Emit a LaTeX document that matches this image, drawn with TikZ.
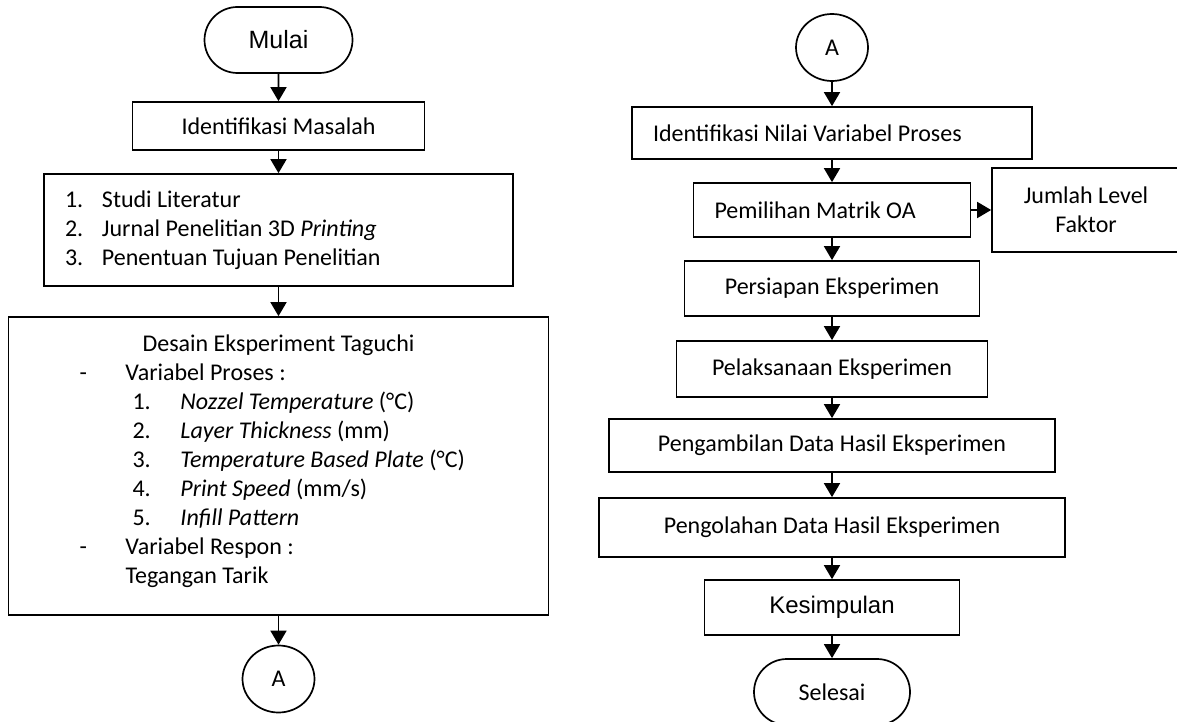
\documentclass[tikz,border=0pt]{standalone}
\usepackage{fontspec}
\setmainfont{Carlito}
\newfontfamily\arialfont{Liberation Sans}
\usetikzlibrary{arrows.meta,shapes.geometric,shapes.misc}
\newcommand{\nomor}[1]{\hspace*{21pt}\makebox[37pt][l]{#1}}
\newcommand{\strip}[1]{\hspace*{71pt}\makebox[46pt][l]{-}#1}
\newcommand{\butir}[2]{\hspace*{124pt}\makebox[48pt][l]{#1}#2}

\begin{document}
\begin{tikzpicture}[x=1pt, y=-1pt,
    kotak/.style={draw, line width=1.7pt, inner sep=0pt, font=\fontsize{24}{29}\selectfont},
    terminal/.style={kotak, rounded rectangle},
    konektor/.style={kotak, ellipse, minimum width=72pt, minimum height=67pt},
    panah/.style={line width=1.7pt, -{Triangle[length=14pt,width=16pt]}}]
    \useasboundingbox (0,0) rectangle (1177,722);
    % Kolom kiri
    \node[terminal, minimum width=148pt, minimum height=66pt, font=\arialfont\fontsize{25}{29}\selectfont] (mulai) at (278.5,40) {Mulai};
    \node[kotak, minimum width=292pt, minimum height=48pt] (masalah) at (278.5,126) {Identifikasi Masalah};
    \node[kotak, minimum width=469pt, minimum height=112pt, text width=469pt, align=flush left] (studi) at (278.5,230)
        {\nomor{1.}Studi Literatur\\ \nomor{2.}Jurnal Penelitian 3D \textit{Printing}\\ \nomor{3.}Penentuan Tujuan Penelitian};
    \node[kotak, minimum width=540pt, minimum height=298pt, text width=540pt, align=flush left] (desain) at (278.5,466)
        {\makebox[540pt]{Desain Eksperiment Taguchi}\\
         \strip{Variabel Proses :}\\
         \butir{1.}{\textit{Nozzel Temperature} (°C)}\\
         \butir{2.}{\textit{Layer Thickness} (mm)}\\
         \butir{3.}{\textit{Temperature Based Plate} (°C)}\\
         \butir{4.}{\textit{Print Speed} (mm/s)}\\
         \butir{5.}{\textit{Infill Pattern}}\\
         \strip{Variabel Respon :}\\
         \hspace*{117pt}Tegangan Tarik\rule[-13pt]{0pt}{0pt}};
    \node[konektor] (konA) at (278.5,679) {A};
    % Kolom kanan
    \node[konektor] (konB) at (832,47.5) {A};
    \node[kotak, minimum width=400pt, minimum height=52pt, text width=358pt, inner xsep=21pt, align=flush left] (nilai) at (832,133) {Identifikasi Nilai Variabel Proses};
    \node[kotak, minimum width=277pt, minimum height=54pt, text width=235pt, inner xsep=21pt, align=flush left] (matrik) at (832,210) {Pemilihan Matrik OA};
    \node[kotak, minimum width=188pt, minimum height=84pt, align=center] (level) at (1086,210) {Jumlah Level\\Faktor};
    \node[kotak, minimum width=295pt, minimum height=55pt] (siap) at (832,288.5) {Persiapan Eksperimen};
    \node[kotak, minimum width=311pt, minimum height=56pt] (laksana) at (832,369) {Pelaksanaan Eksperimen};
    \node[kotak, minimum width=446pt, minimum height=53pt] (ambil) at (832,445.5) {Pengambilan Data Hasil Eksperimen};
    \node[kotak, minimum width=466pt, minimum height=59pt] (olah) at (832,527.5) {Pengolahan Data Hasil Eksperimen};
    \node[kotak, minimum width=255pt, minimum height=55pt, font=\arialfont\fontsize{24}{29}\selectfont] (simpul) at (832,607.5) {Kesimpulan};
    \node[terminal, minimum width=156pt, minimum height=66pt] (selesai) at (832,692) {Selesai};
    % Panah kolom kiri
    \draw[panah] (mulai) -- (masalah);
    \draw[panah] (masalah) -- (studi);
    \draw[panah] (studi) -- (desain);
    \draw[panah] (desain) -- (konA);
    % Panah kolom kanan
    \draw[panah] (konB) -- (nilai);
    \draw[panah] (nilai) -- (matrik);
    \draw[panah] (matrik) -- (level);
    \draw[panah] (matrik) -- (siap);
    \draw[panah] (siap) -- (laksana);
    \draw[panah] (laksana) -- (ambil);
    \draw[panah] (ambil) -- (olah);
    \draw[panah] (olah) -- (simpul);
    \draw[panah] (simpul) -- (selesai);
\end{tikzpicture}
\end{document}
